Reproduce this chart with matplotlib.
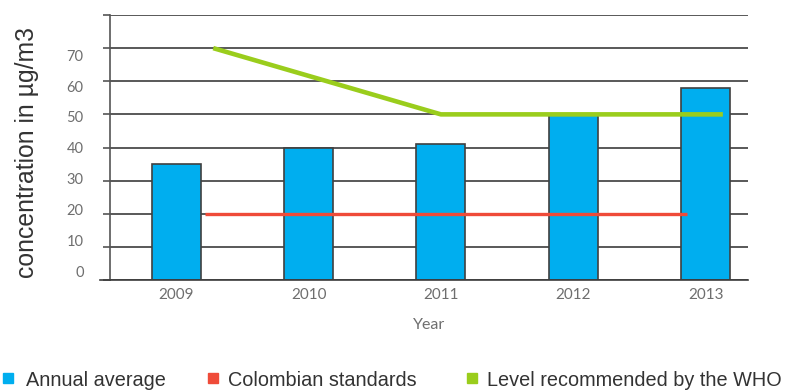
import matplotlib
matplotlib.use("Agg")
import matplotlib.pyplot as plt
import numpy as np

# Annual PM concentration (µg/m3)
years = ["2009", "2010", "2011", "2012", "2013"]
annual_average = [35, 40, 41, 50, 58]

# Reference levels, positioned in category units along the x axis
colombian_x = [0.22, 3.86]
colombian_level = [20, 20]
who_x = [0.28, 2.0, 4.13]
who_level = [70, 50, 50]

y_ticks = [0, 10, 20, 30, 40, 50, 60, 70, 80]
y_labels = [0, 10, 20, 30, 40, 50, 60, 70]

BLUE = "#00AEEF"
RED = "#EF4B39"
GREEN = "#9ACD1C"
GRID = "#3C3C3C"
TICK_TXT = "#6E6E6E"

fig = plt.figure(figsize=(7.85, 3.9), dpi=100)
ax = fig.add_axes([110 / 785, 1 - 280 / 390, 638 / 785, 265 / 390])

x = np.arange(len(years))
ax.bar(x, annual_average, width=0.37, color=BLUE, edgecolor="#404040",
       linewidth=1.2, zorder=2)
ax.plot(colombian_x, colombian_level, color=RED, lw=2.4, zorder=3,
        solid_capstyle="butt")
ax.plot(who_x, who_level, color=GREEN, lw=3.3, zorder=3,
        solid_capstyle="butt")

ax.set_xlim(-0.5, 4.32)
ax.set_ylim(0, 80)
ax.set_yticks(y_ticks)
ax.yaxis.grid(True, color=GRID, lw=1.2, zorder=1)
ax.set_axisbelow(True)
ax.tick_params(axis="y", length=5, width=1.2, color="#555555",
               labelleft=False)
ax.set_xticks(x)
ax.set_xticklabels(years, fontfamily="Lato", fontsize=11, color=TICK_TXT)
ax.tick_params(axis="x", length=0, pad=6)

for s in ["top", "right"]:
    ax.spines[s].set_visible(False)
ax.spines["left"].set_color("#555555")
ax.spines["left"].set_linewidth(1.2)
ax.spines["bottom"].set_color(GRID)
ax.spines["bottom"].set_linewidth(1.2)
ax.plot([-0.015, 0], [0, 0], transform=ax.transAxes, color=GRID, lw=1.2,
        clip_on=False)

# value labels sit on a slightly compressed scale next to the axis
sec = ax.secondary_yaxis("left",
                         functions=(lambda y: (y - 2.7) / 0.931,
                                    lambda v: v * 0.931 + 2.7))
sec.set_yticks(y_labels)
sec.tick_params(length=0, pad=19, labelsize=10.5, labelcolor=TICK_TXT)
for lab in sec.get_yticklabels():
    lab.set_fontfamily("Lato")
sec.spines["left"].set_visible(False)

ax.set_xlabel("Year", fontfamily="Lato", fontsize=11.5, color=TICK_TXT,
              labelpad=11)
fig.text(27 / 785, 1 - 152 / 390, "concentration in µg/m3", rotation=90,
         ha="center", va="center", fontfamily="Liberation Sans",
         fontsize=17.8, color="#333333")

# legend row
legend_items = [("Annual average", BLUE, 3, 26),
                ("Colombian standards", RED, 208, 228),
                ("Level recommended by the WHO", GREEN, 467, 487)]
for label, col, mx, tx in legend_items:
    fig.patches.append(plt.Rectangle((mx / 785, 1 - 383 / 390), 10 / 785,
                                     10 / 390, transform=fig.transFigure,
                                     color=col, figure=fig))
    fig.text(tx / 785, 1 - 386 / 390, label, ha="left", va="baseline",
             fontfamily="Liberation Sans", fontsize=14.3, color="#333333")

fig.savefig("out.png", dpi=100)
